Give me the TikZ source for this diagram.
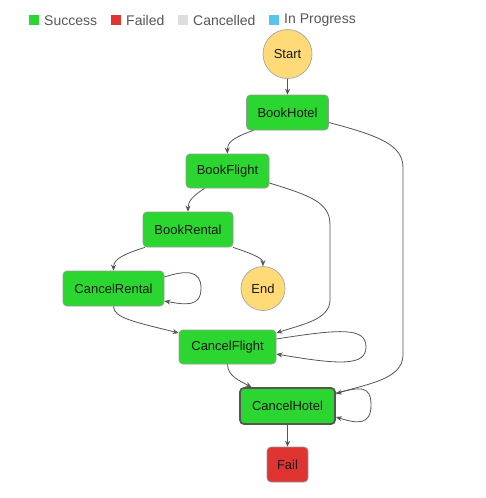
\documentclass[tikz,border=0pt]{standalone}
\usepackage{fontspec}
\setmainfont{Liberation Sans}
\usetikzlibrary{arrows.meta}
\definecolor{okgreen}{RGB}{44,214,48}
\definecolor{failred}{RGB}{224,52,50}
\definecolor{cancelgray}{RGB}{221,221,221}
\definecolor{runblue}{RGB}{85,197,236}
\definecolor{termyellow}{RGB}{255,218,118}
\definecolor{edgegray}{RGB}{85,85,85}
\definecolor{legendtext}{RGB}{85,85,85}
\begin{document}
\begin{tikzpicture}[x=1pt, y=-1pt,
    state/.style={draw=black!40, line width=0.7pt, rounded corners=4pt, fill=okgreen,
      minimum height=35pt, inner sep=0pt, font=\fontsize{13}{15}\selectfont, text=black!90},
    term/.style={circle, draw=black!35, line width=0.7pt, fill=termyellow, inner sep=0pt,
      font=\fontsize{13}{15}\selectfont, text=black!90},
    edge/.style={draw=edgegray, line width=0.8pt, -{Stealth[length=6pt, width=5pt]}},
    key/.style={minimum size=10pt, inner sep=0pt},
    keytext/.style={anchor=west, inner sep=0pt, font=\fontsize{14}{16}\selectfont, text=legendtext}]
  \useasboundingbox (0,0) rectangle (485,498);

  % legend
  \node[key, fill=okgreen] (k1) at (34,20) {};
  \node[keytext] (t1) at (44,20.5) {Success};
  \node[key, fill=failred] (k2) at (116,20) {};
  \node[keytext] (t2) at (126,20.5) {Failed};
  \node[key, fill=cancelgray] (k3) at (183,20) {};
  \node[keytext] (t3) at (193,20.5) {Cancelled};
  \node[key, fill=runblue] (k4) at (274,20) {};
  \node[keytext] (t4) at (284,20.5) {In Progress};

  % states
  \node[term, minimum size=49pt] (start) at (287.5,54) {Start};
  \node[state, minimum width=82pt] (bookhotel) at (287.5,112.5) {BookHotel};
  \node[state, minimum width=83pt, minimum height=34pt] (bookflight) at (227.5,171) {BookFlight};
  \node[state, minimum width=90pt] (bookrental) at (188,229.5) {BookRental};
  \node[state, minimum width=101pt] (cancelrental) at (113.5,288.5) {CancelRental};
  \node[term, minimum size=44pt] (end) at (263,288.5) {End};
  \node[state, minimum width=97pt, minimum height=34pt] (cancelflight) at (227.5,347) {CancelFlight};
  \node[state, minimum width=95pt, minimum height=36pt, draw=edgegray, line width=1.8pt] (cancelhotel) at (287.5,406) {CancelHotel};
  \node[state, minimum width=41pt, fill=failred] (fail) at (287.5,464.5) {Fail};

  % transitions
  \draw[edge] (start) -- (bookhotel);
  \draw[edge] ([xshift=-34pt]bookhotel.south) .. controls (232,138) and (227,143) .. (bookflight.north);
  \draw[edge] ([yshift=-10pt]bookhotel.east) .. controls (380,136) and (403,145) .. (403,168)
    -- (403,355) .. controls (403,380) and (365,384) .. ([yshift=12pt]cancelhotel.east);
  \draw[edge] ([xshift=-23pt]bookflight.south) .. controls (193,196) and (188,201) .. (bookrental.north);
  \draw[edge] ([yshift=-12pt]bookflight.east) .. controls (312,196) and (330,203) .. (330,225)
    -- (330,300) .. controls (330,320) and (300,325) .. ([yshift=14pt]cancelflight.east);
  \draw[edge] ([xshift=-43pt]bookrental.south) .. controls (124,254) and (113.5,259) .. (cancelrental.north);
  \draw[edge] ([xshift=45pt]bookrental.south) .. controls (250,253) and (263,258) .. (end.north);
  \draw[edge] ([yshift=11.5pt]cancelrental.east) .. controls (186,270) and (201,270) .. (201,288)
    .. controls (201,307) and (186,305) .. ([yshift=-12.5pt]cancelrental.east);
  \draw[edge] (cancelrental.south) .. controls (113.5,318) and (135,322) .. ([yshift=14pt]cancelflight.west);
  \draw[edge] ([yshift=8pt]cancelflight.east) .. controls (340,329) and (366,327) .. (366,347)
    .. controls (366,366) and (340,365) .. ([yshift=-7pt]cancelflight.east);
  \draw[edge] (cancelflight.south) .. controls (227.5,376) and (240,381) .. ([xshift=-36pt]cancelhotel.north);
  \draw[edge] ([yshift=13pt]cancelhotel.east) .. controls (360,387) and (371,385) .. (371,405)
    .. controls (371,425) and (358,424) .. ([yshift=-11pt]cancelhotel.east);
  \draw[edge] (cancelhotel) -- (fail);
\end{tikzpicture}
\end{document}
